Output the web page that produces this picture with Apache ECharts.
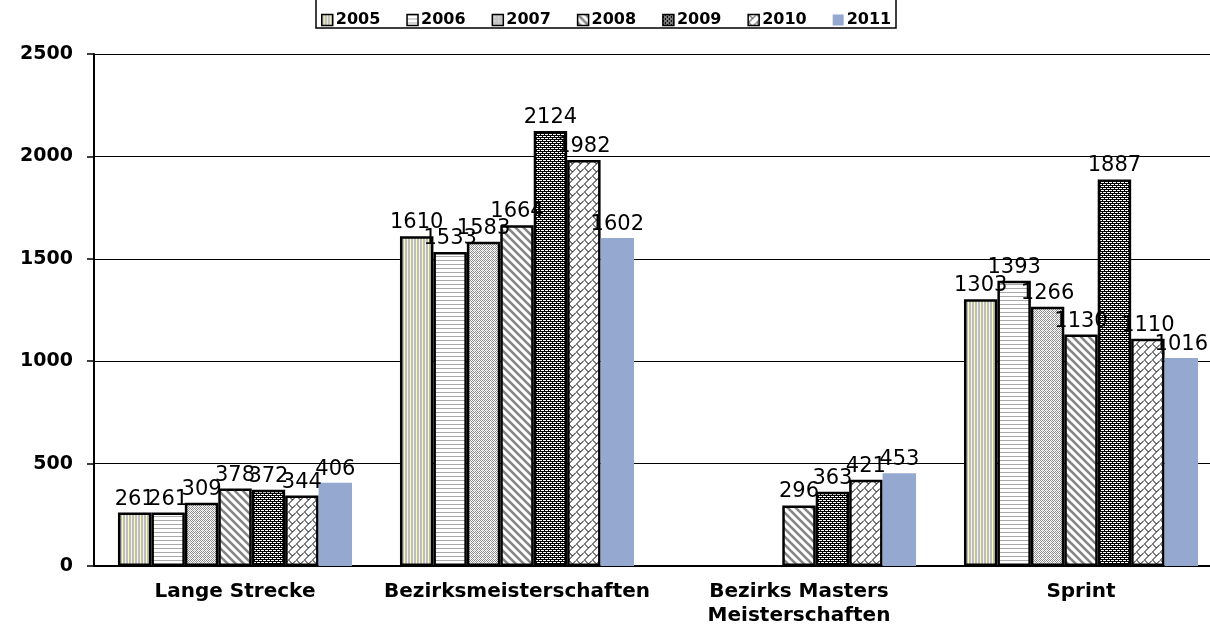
<!DOCTYPE html>
<html>
<head>
<meta charset="utf-8">
<script src="https://cdn.jsdelivr.net/npm/echarts@6/dist/echarts.min.js"></script>
<style>
  html, body { margin: 0; padding: 0; background: #fff; overflow: hidden; }
  #chart { width: 1222px; height: 628px; }
</style>
</head>
<body>
<div id="chart"></div>
<script>
const categories = ['Lange Strecke', 'Bezirksmeisterschaften', 'Bezirks Masters\nMeisterschaften', 'Sprint'];
const years = ['2005', '2006', '2007', '2008', '2009', '2010', '2011'];
const v2005 = [261, 1610, null, 1303];
const v2006 = [261, 1533, null, 1393];
const v2007 = [309, 1583, null, 1266];
const v2008 = [378, 1664, 296, 1130];
const v2009 = [372, 2124, 363, 1887];
const v2010 = [344, 1982, 421, 1110];
const v2011 = [406, 1602, 453, 1016];
const yTicks = { min: 0, max: 2500, interval: 500 };

// small canvas tiles used as fill patterns
function tile(w, h, draw) {
  const c = document.createElement('canvas');
  c.width = w; c.height = h;
  const ctx = c.getContext('2d');
  ctx.fillStyle = '#fff';
  ctx.fillRect(0, 0, w, h);
  draw(ctx, w, h);
  return { image: c, repeat: 'repeat' };
}

const fills = [
  // 2005 vertical stripes
  tile(6, 6, (ctx) => {
    ctx.fillStyle = '#bdbdbd'; ctx.fillRect(0, 0, 6, 6);
    ctx.fillStyle = '#ffffa8'; ctx.fillRect(2, 0, 1, 6);
    ctx.fillStyle = '#f4f4ec'; ctx.fillRect(5, 0, 1, 6);
  }),
  // 2006 horizontal lines
  tile(4, 4, (ctx) => {
    ctx.fillStyle = '#a8a8a8'; ctx.fillRect(0, 0, 4, 1);
  }),
  // 2007 fine grey dots
  tile(4, 4, (ctx) => {
    ctx.fillStyle = '#8c8c8c';
    ctx.fillRect(0, 0, 1, 1); ctx.fillRect(2, 0, 1, 1);
    ctx.fillRect(1, 1, 1, 1); ctx.fillRect(3, 1, 1, 1);
    ctx.fillRect(0, 2, 1, 1); ctx.fillRect(3, 3, 1, 1);
    ctx.fillRect(1, 3, 1, 1);
    ctx.fillStyle = '#c4c4c4';
    ctx.fillRect(2, 2, 1, 1);
  }),
  // 2008 diagonal stripes
  tile(8, 8, (ctx) => {
    ctx.strokeStyle = '#858585'; ctx.lineWidth = 2.6;
    for (let k = -8; k <= 8; k += 8) {
      ctx.beginPath(); ctx.moveTo(k - 2, -2); ctx.lineTo(k + 10, 10); ctx.stroke();
    }
  }),
  // 2009 dense black dots
  tile(4, 4, (ctx) => {
    ctx.fillStyle = '#000'; ctx.fillRect(0, 0, 4, 4);
    ctx.fillStyle = '#fff';
    ctx.fillRect(0, 0, 2, 1); ctx.fillRect(2, 2, 2, 1);
    ctx.fillRect(3, 0, 1, 1); ctx.fillRect(1, 2, 1, 1);
  }),
  // 2010 zigzag lattice
  tile(8, 8, (ctx) => {
    ctx.strokeStyle = '#000'; ctx.lineWidth = 1;
    ctx.beginPath();
    ctx.moveTo(0, 8.5); ctx.lineTo(8, 0.5);
    ctx.moveTo(0.5, 0); ctx.lineTo(4.5, 4);
    ctx.stroke();
  }),
  '#95a9d0'
];

const dataList = [v2005, v2006, v2007, v2008, v2009, v2010, v2011];

const series = years.map((y, i) => ({
  name: y,
  type: 'bar',
  barGap: '0%',
  barCategoryGap: '17%',
  data: dataList[i],
  itemStyle: i === 6
    ? { color: fills[i] }
    : { color: fills[i], borderColor: '#000', borderWidth: 2.5 },
  label: {
    show: true,
    position: 'top',
    distance: 3,
    color: '#000',
    fontFamily: 'DejaVu Sans',
    fontSize: 21
  }
}));

const chart = echarts.init(document.getElementById('chart'));
chart.setOption({
  animation: false,
  backgroundColor: '#fff',
  legend: {
    top: 7,
    left: 316,
    icon: 'rect',
    itemWidth: 11,
    itemHeight: 11,
    itemGap: 26,
    textStyle: { color: '#000', fontFamily: 'DejaVu Sans', fontWeight: 'bold', fontSize: 16, padding: [0, 0, 0, -2] },
    itemStyle: { borderWidth: 1.5 },
    data: years
  },
  graphic: [{
    type: 'rect',
    shape: { x: 316, y: -3, width: 580, height: 31 },
    style: { fill: 'none', stroke: '#000', lineWidth: 1.5 },
    z: 1
  }],
  grid: { left: 94, right: 0, top: 54, bottom: 61 },
  xAxis: {
    type: 'category',
    data: categories,
    axisLine: { lineStyle: { color: '#000', width: 2 } },
    axisTick: { length: 6, lineStyle: { color: '#000', width: 1.5 } },
    axisLabel: {
      color: '#000',
      fontFamily: 'DejaVu Sans',
      fontWeight: 'bold',
      fontSize: 20,
      margin: 14,
      lineHeight: 24,
      interval: 0
    }
  },
  yAxis: {
    type: 'value',
    min: yTicks.min,
    max: yTicks.max,
    interval: yTicks.interval,
    axisLine: { show: true, lineStyle: { color: '#000', width: 2 } },
    axisTick: { show: true, length: 7, lineStyle: { color: '#000', width: 1.5 } },
    splitLine: { lineStyle: { color: '#000', width: 1 } },
    axisLabel: {
      color: '#000',
      fontFamily: 'DejaVu Sans',
      fontWeight: 'bold',
      fontSize: 19,
      margin: 21,
      formatter: (v) => String(v)
    }
  },
  series: series
});
</script>
</body>
</html>
